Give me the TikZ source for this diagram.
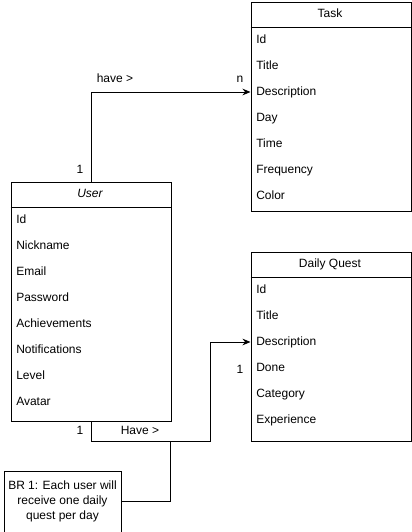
\documentclass[tikz,border=0pt]{standalone}
\usepackage{fontspec}
\setmainfont{Liberation Sans}
\usetikzlibrary{arrows.meta}
\begin{document}
\begin{tikzpicture}[x=0.75pt,y=-0.75pt,
  font=\fontsize{9}{11}\selectfont,
  cls/.style={draw,line width=0.75pt,anchor=north west,inner sep=0pt,minimum width=120pt},
  row/.style={anchor=west,inner sep=0pt,text height=6.6pt,text depth=1.9pt},
  lbl/.style={inner sep=0pt,text height=6.6pt,text depth=1.9pt},
  conn/.style={draw,line width=0.75pt},
  arr/.style={conn,-{Stealth[length=6pt,width=5pt]}}]
\useasboundingbox (0,0) rectangle (411,532);
% Task
\node[cls,minimum height=156.75pt] (task) at (250.5,1.5) {};
\draw[line width=0.75pt] (250.5,27.5) -- (410.5,27.5);
\node[lbl] (ttitle) at (330,14) {Task};
\node[row] (t1) at (256,40) {Id};
\node[row] (t2) at (256,66) {Title};
\node[row] (t3) at (256,92) {Description};
\node[row] (t4) at (256,118) {Day};
\node[row] (t5) at (256,144) {Time};
\node[row] (t6) at (256,170) {Frequency};
\node[row] (t7) at (256,196) {Color};
% User
\node[cls,minimum height=179.25pt] (user) at (10.5,181.5) {};
\draw[line width=0.75pt] (10.5,207.5) -- (170.5,207.5);
\node[lbl] (utitle) at (90,194) {\itshape User};
\node[row] (u1) at (16,220) {Id};
\node[row] (u2) at (16,246) {Nickname};
\node[row] (u3) at (16,272) {Email};
\node[row] (u4) at (16,298) {Password};
\node[row] (u5) at (16,324) {Achievements};
\node[row] (u6) at (16,350) {Notifications};
\node[row] (u7) at (16,376) {Level};
\node[row] (u8) at (16,402) {Avatar};
% Daily Quest
\node[cls,minimum height=141.75pt] (quest) at (250.5,251.5) {};
\draw[line width=0.75pt] (250.5,277.5) -- (410.5,277.5);
\node[lbl] (qtitle) at (330,264) {Daily Quest};
\node[row] (q1) at (256,290) {Id};
\node[row] (q2) at (256,316) {Title};
\node[row] (q3) at (256,342) {Description};
\node[row] (q4) at (256,368) {Done};
\node[row] (q5) at (256,394) {Category};
\node[row] (q6) at (256,420) {Experience};
% Note
\node[draw,line width=0.75pt,anchor=north west,inner sep=0pt,minimum width=87.75pt,minimum height=45.75pt] (note) at (3.5,470.5) {};
\node[inner sep=0pt,align=center] (notetext) at (note.center) {BR 1: Each user will\\receive one daily\\quest per day};
% Connectors
\draw[arr] (user.north) |- (task.west |- t3);
\node[lbl] (l1) at (115,79) {have >};
\node[lbl] (l2) at (240,79) {n};
\node[lbl] (l3) at (80,170) {1};
\coordinate (c1) at (210.5,441.5);
\coordinate (c2) at (170.5,441.5);
\draw[conn] (user.south) |- (c1);
\draw[arr] (c1) |- (quest.west |- q3);
\node[lbl] (l4) at (80,431) {1};
\node[lbl] (l5) at (140,431) {Have >};
\node[lbl] (l6) at (240,370) {1};
\draw[conn] (note.east) -| (c2);
\end{tikzpicture}
\end{document}
